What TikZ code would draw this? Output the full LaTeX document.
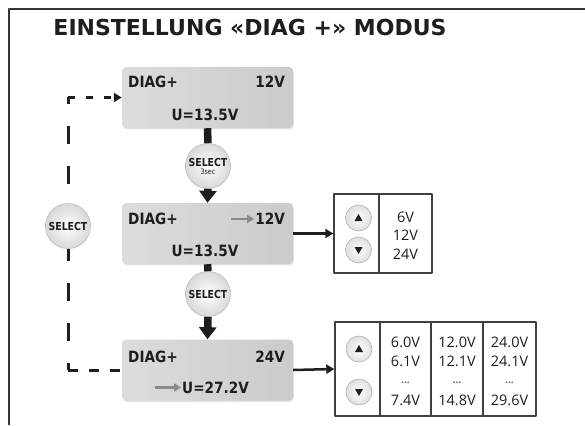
\documentclass[tikz,border=0pt]{standalone}
\usepackage{fontspec}
\setmainfont{Open Sans}
\newfontfamily\headfont{DejaVu Sans}
\newfontfamily\lcdfont[FakeStretch=0.88]{DejaVu Sans}
\newfontfamily\btnfont[FakeStretch=0.85]{DejaVu Sans}
\usetikzlibrary{arrows.meta,shadows}
\definecolor{ink}{HTML}{1E1E1E}
\definecolor{lcdL}{HTML}{DCDCDC}
\definecolor{lcdR}{HTML}{CBCBCB}
\definecolor{hint}{HTML}{8A8A8A}
\tikzset{frameline/.style={line width=2.5pt,ink!90},
  headtxt/.style={font=\headfont\bfseries\fontsize{22}{24}\selectfont,inner sep=0pt},
  lcd/.style={rounded corners=4pt,minimum width=171pt,minimum height=61pt,inner sep=0pt,left color=lcdL,right color=lcdR,drop shadow={shadow xshift=0.8pt,shadow yshift=-1.3pt,opacity=0.22}},
  lcdtxt/.style={font=\lcdfont\bfseries\fontsize{15.5}{17}\selectfont,inner sep=0pt},
  selbtn/.style={circle,minimum size=45pt,inner sep=0pt,align=center,draw=gray!55,line width=0.6pt,inner color=white,outer color=gray!30,font=\btnfont\bfseries\fontsize{11}{11}\selectfont},
  bar/.style={line width=7.5pt,ink},
  flow/.style={line width=2.5pt,ink,-{Triangle[width=9pt,length=8pt]}},
  hintarr/.style={line width=2.6pt,hint,shorten >=1pt,-{Triangle[width=8pt,length=7pt]}},
  loopline/.style={line width=3pt,ink},
  tabline/.style={line width=1.4pt,ink!85},
  arrbtn/.style={circle,minimum size=26pt,inner sep=0pt,draw=gray!60,line width=0.6pt,inner color=white,outer color=gray!25},
  tabtxt/.style={font=\fontsize{14.5}{16}\selectfont,inner sep=0pt,anchor=base}}
\begin{document}
\begin{tikzpicture}[x=1pt,y=-1pt,line join=round,text=ink]
\useasboundingbox (0,0) rectangle (585,425);
% --- frame and heading
\draw[frameline] (9,425) -- (9,9) -- (585,9);
\node[headtxt,anchor=base] (title) at (250,36) {EINSTELLUNG «DIAG +» MODUS};
% --- display states
\node[lcd] (box1) at (207.5,97.5) {};
\node[lcd] (box2) at (207.5,233.5) {};
\node[lcd] (box3) at (207.5,370) {};
\node[lcdtxt,anchor=base west] (d1) at (128,88) {DIAG+};
\node[lcdtxt,anchor=base east] (v1) at (285,88) {12V};
\node[lcdtxt,anchor=base] (u1) at (205,120) {U=13.5V};
\node[lcdtxt,anchor=base west] (d2) at (128,224) {DIAG+};
\node[lcdtxt,anchor=base east] (v2) at (285,224) {12V};
\node[lcdtxt,anchor=base] (u2) at (205,256) {U=13.5V};
\node[lcdtxt,anchor=base west] (d3) at (128,362) {DIAG+};
\node[lcdtxt,anchor=base east] (v3) at (285,362) {24V};
\node[lcdtxt,anchor=base west] (u3) at (182,393) {U=27.2V};
\coordinate (h2) at (231,219);
\coordinate (h3) at (155,387.5);
\draw[hintarr] (h2) -- (v2.west |- h2);
\draw[hintarr] (h3) -- (u3.west |- h3);
% --- select buttons and thick links
\node[selbtn] (sel1) at (208,166) {SELECT\\[-3pt]{\btnfont\mdseries\fontsize{7.5}{8}\selectfont 3sec}};
\node[selbtn] (sel2) at (208,294) {SELECT};
\node[selbtn] (sel0) at (68,226) {SELECT};
\draw[bar] (box1.south) -- (sel1.north);
\draw[bar,-{Triangle[width=17pt,length=12pt]}] (sel1.south) -- (box2.north);
\draw[bar] (box2.south) -- (sel2.north);
\draw[bar,-{Triangle[width=17pt,length=12pt]}] (sel2.south) -- (box3.north);
% --- dashed return loop
\coordinate (lp1) at (box1.west -| sel0);
\coordinate (lp2) at (box3.west -| sel0);
\draw[loopline,dash pattern=on 18pt off 22pt,dash phase=12pt] (lp1) -- (sel0.north);
\draw[loopline,dash pattern=on 7pt off 11pt,-{Triangle[width=9pt,length=8pt]}] (lp1) -- (box1.west);
\draw[loopline,dash pattern=on 18pt off 22pt,dash phase=11pt] (lp2) -- (sel0.south);
\draw[loopline,dash pattern=on 10pt off 11pt] (lp2) -- (box3.west);
% --- voltage range table
\node[draw=ink!85,line width=1.4pt,minimum width=98pt,minimum height=79pt,inner sep=0pt] (tab1) at (383,233.5) {};
\draw[tabline] (379,194) -- (379,273);
\draw[flow] (box2.east) -- (tab1.west);
\node[arrbtn] (up1) at (358.5,218) {};
\node[arrbtn] (dn1) at (358.5,250) {};
\node[tabtxt] (r1) at (405.5,222) {6V};
\node[tabtxt] (r2) at (405.5,240.5) {12V};
\node[tabtxt] (r3) at (405.5,259) {24V};
% --- voltage step table
\node[draw=ink!85,line width=1.4pt,minimum width=201pt,minimum height=94pt,inner sep=0pt] (tab2) at (435.5,369) {};
\foreach \x in {380,431,483} {\draw[tabline] (\x,322) -- (\x,416);}
\draw[flow] (box3.east) -- (tab2.west);
\node[arrbtn] (up2) at (359,349) {};
\node[arrbtn] (dn2) at (359,392) {};
\foreach \i/\x/\a/\b/\z in {1/405.5/6.0V/6.1V/7.4V,2/457/12.0V/12.1V/14.8V,3/509.5/24.0V/24.1V/29.6V} {
  \node[tabtxt] (lo\i) at (\x,347) {\a};
  \node[tabtxt] (nx\i) at (\x,366) {\b};
  \node[tabtxt,font=\bfseries\fontsize{10}{10}\selectfont,text=ink!75] (dd\i) at (\x,383) {...};
  \node[tabtxt] (hi\i) at (\x,405) {\z};
}
% arrow glyphs in the round keys
\foreach \x/\y in {358.5/218,359/349} {\fill[ink] (\x-4,\y+3) -- (\x+4,\y+3) -- (\x,\y-4) -- cycle;}
\foreach \x/\y in {358.5/250,359/392} {\fill[ink] (\x-4,\y-3) -- (\x+4,\y-3) -- (\x,\y+4) -- cycle;}
\end{tikzpicture}
\end{document}
